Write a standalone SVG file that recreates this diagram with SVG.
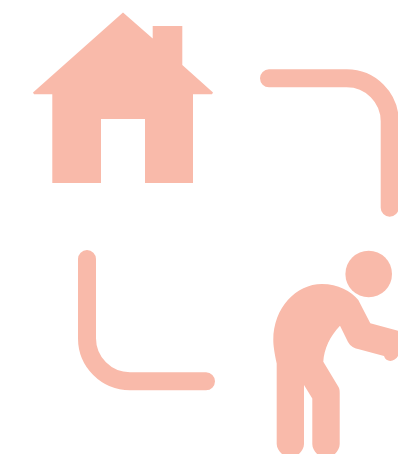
<svg xmlns="http://www.w3.org/2000/svg" width="398" height="454" viewBox="0 0 398 454">
<style>.f{fill:#f9baaa}.c{fill:none;stroke:#f9baaa;stroke-width:18;stroke-linecap:round}</style>
<g id="house"><path class="f" fill-rule="evenodd" d="M123 12.500L152.700 38.500V26H182.300V65L213 92.500L212 94.300H193V183H145V119H101V183H52.300V94.300H34L33 92.500Z"/></g>
<g id="person">
<circle class="f" cx="368.700" cy="274" r="23.300"/>
<path class="f" d="M276.700 363.500C274.500 353 273.300 346 273.300 340C273.300 308 296 284 322 284C338 284 351 291 358.300 300L370.300 323.300L398 330.700V356C395 362 386 363 384 356L358 349C352 347.500 350 345 348 342L340 325.700C330 336 324 349 323.300 361.700L338.500 387C339.500 389 339.700 390 339.700 393V444C339.700 449 336 454 331 457H321C316 454 312.300 449 312.300 444V398.500L304 385V444C304 449 300 454 295 457H286C281 454 276.700 449 276.700 444Z"/>
</g>
<g id="connectors">
<path class="c" d="M269 78.300H346.700A43 43 0 0 1 389.700 121.300V207.700"/>
<path class="c" d="M87 259V338.300A43 43 0 0 0 130 381.300H206"/>
</g>
</svg>
